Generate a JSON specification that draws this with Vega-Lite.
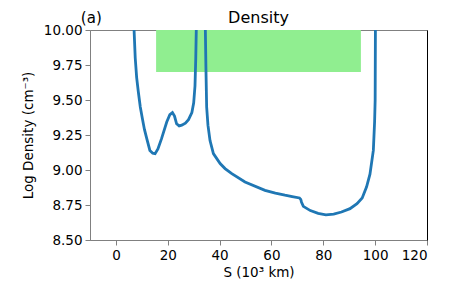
{
  "$schema": "https://vega.github.io/schema/vega-lite/v6.json",
  "width": 337,
  "height": 210,
  "autosize": {"type": "none"},
  "padding": {"left": 90, "top": 30, "right": 23, "bottom": 60},
  "config": {
    "font": "DejaVu Sans",
    "view": {"stroke": "#808080", "strokeWidth": 1},
    "axis": {"grid": false, "labelFont": "DejaVu Sans", "titleFont": "DejaVu Sans", "labelFontSize": 13.5, "titleFontSize": 13.5, "titleFontWeight": "normal", "labelColor": "black", "titleColor": "black", "domainColor": "#808080", "tickColor": "#808080", "tickSize": 5, "labelPadding": 3}
  },
  "layer": [
    {
      "data": {"values": [{"s1": 15.5, "s2": 94.5, "d1": 9.7, "d2": 10.0}]},
      "mark": {"type": "rect", "color": "#90ee90"},
      "encoding": {
        "x": {"field": "s1", "type": "quantitative", "scale": {"domain": [-10, 120], "nice": false, "zero": false}, "axis": {"values": [0, 20, 40, 60, 80, 100, 120], "title": "S (10³ km)", "titlePadding": 4}},
        "x2": {"field": "s2"},
        "y": {"field": "d1", "type": "quantitative", "scale": {"domain": [8.5, 10], "nice": false, "zero": false}, "axis": {"orient": "right", "labels": false, "ticks": false, "title": null, "domainColor": "black"}},
        "y2": {"field": "d2"}
      }
    },
    {
      "data": {"values": [
        {"s": 6.9, "d": 10.6}, {"s": 7.0, "d": 10.0}, {"s": 7.45, "d": 9.8}, {"s": 8.0, "d": 9.66}, {"s": 8.65, "d": 9.557}, {"s": 9.4, "d": 9.45}, {"s": 10.2, "d": 9.367}, {"s": 11.0, "d": 9.29}, {"s": 11.9, "d": 9.224}, {"s": 13.1, "d": 9.14}, {"s": 14.2, "d": 9.12}, {"s": 15.1, "d": 9.117}, {"s": 16.2, "d": 9.15}, {"s": 17.6, "d": 9.224}, {"s": 19.6, "d": 9.343}, {"s": 20.8, "d": 9.395}, {"s": 21.8, "d": 9.41}, {"s": 22.6, "d": 9.385}, {"s": 23.4, "d": 9.33}, {"s": 24.4, "d": 9.315}, {"s": 25.4, "d": 9.32}, {"s": 26.8, "d": 9.335}, {"s": 28.0, "d": 9.36}, {"s": 29.3, "d": 9.41}, {"s": 30.0, "d": 9.48}, {"s": 30.5, "d": 9.6}, {"s": 30.8, "d": 9.8}, {"s": 31.0, "d": 10.0}, {"s": 31.2, "d": 10.6},
        {"s": 34.3, "d": 10.6}, {"s": 34.5, "d": 10.0}, {"s": 34.7, "d": 9.75}, {"s": 35.0, "d": 9.45}, {"s": 35.5, "d": 9.32}, {"s": 36.3, "d": 9.21}, {"s": 37.6, "d": 9.117}, {"s": 40.2, "d": 9.046}, {"s": 42.1, "d": 9.01}, {"s": 44.7, "d": 8.974}, {"s": 49.8, "d": 8.914}, {"s": 57.5, "d": 8.855}, {"s": 61.5, "d": 8.835}, {"s": 65.2, "d": 8.82}, {"s": 68.0, "d": 8.81}, {"s": 70.8, "d": 8.80}, {"s": 71.3, "d": 8.79}, {"s": 71.6, "d": 8.77}, {"s": 72.3, "d": 8.74}, {"s": 75.0, "d": 8.71}, {"s": 78.0, "d": 8.69}, {"s": 81.0, "d": 8.68}, {"s": 84.0, "d": 8.685}, {"s": 87.0, "d": 8.70}, {"s": 90.3, "d": 8.724}, {"s": 93.0, "d": 8.76}, {"s": 95.0, "d": 8.80}, {"s": 96.7, "d": 8.88}, {"s": 98.0, "d": 8.97}, {"s": 99.3, "d": 9.14}, {"s": 99.8, "d": 9.35}, {"s": 100.0, "d": 9.5}, {"s": 100.1, "d": 10.0}, {"s": 100.2, "d": 10.6}
      ]},
      "mark": {"type": "line", "color": "#1f77b4", "strokeWidth": 2.8, "clip": true},
      "encoding": {
        "x": {"field": "s", "type": "quantitative"},
        "y": {"field": "d", "type": "quantitative", "axis": {"orient": "left", "values": [8.5, 8.75, 9.0, 9.25, 9.5, 9.75, 10.0], "format": ".2f", "title": "Log Density (cm⁻³)", "titlePadding": 8}}
      }
    },
    {
      "data": {"values": [{"label": "(a)", "s": -9.5, "d": 10.0, "sz": 15}, {"label": "Density", "s": 55, "d": 10.0, "sz": 16}]},
      "mark": {"type": "text", "baseline": "bottom", "dy": -4, "font": "DejaVu Sans", "color": "black"},
      "encoding": {
        "x": {"field": "s", "type": "quantitative"},
        "y": {"field": "d", "type": "quantitative", "axis": null},
        "text": {"field": "label"},
        "size": {"field": "sz", "type": "quantitative", "scale": null, "legend": null},
        "align": {"condition": {"test": "datum.label == '(a)'", "value": "left"}, "value": "center"}
      }
    }
  ],
  "resolve": {"axis": {"y": "independent"}}
}
